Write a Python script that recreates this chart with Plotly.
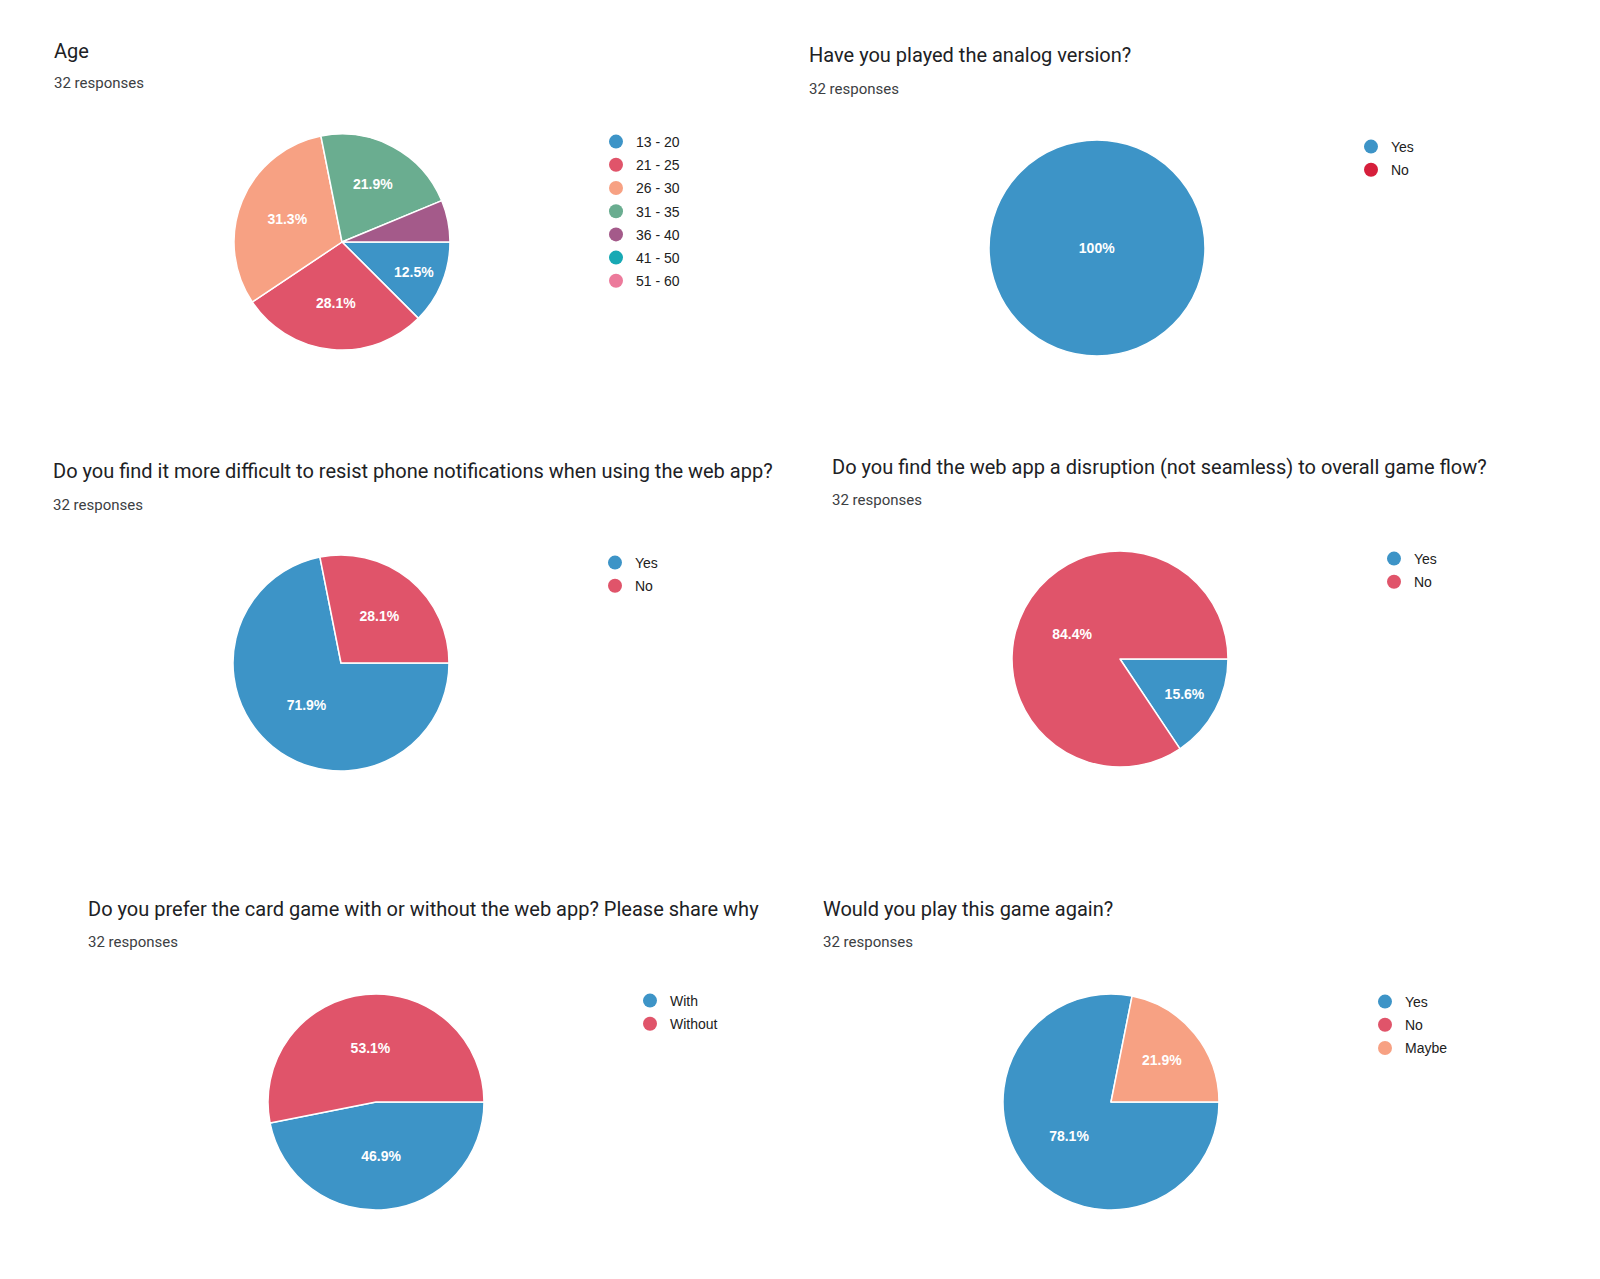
import plotly.graph_objects as go

W, H = 1600, 1279

# ---- data ----
age_labels = ["13 - 20", "21 - 25", "26 - 30", "31 - 35", "36 - 40", "41 - 50", "51 - 60"]
age_values = [4, 9, 10, 7, 2, 0, 0]
age_colors = ["#3d94c7", "#e0546a", "#f7a183", "#6aad90", "#a45a8a", "#17a9b4", "#ec7a9b"]

analog_labels = ["Yes", "No"]
analog_values = [32, 0]
analog_colors = ["#3d94c7", "#d61f3b"]

notif_labels = ["Yes", "No"]
notif_values = [23, 9]

disrupt_labels = ["Yes", "No"]
disrupt_values = [5, 27]

prefer_labels = ["With", "Without"]
prefer_values = [15, 17]

again_labels = ["Yes", "No", "Maybe"]
again_values = [25, 0, 7]

yn_colors = ["#3d94c7", "#e0546a", "#f7a183"]

titles = [
    "Age",
    "Have you played the analog version?",
    "Do you find it more difficult to resist phone notifications when using the web app?",
    "Do you find the web app a disruption (not seamless) to overall game flow?",
    "Do you prefer the card game with or without the web app? Please share why",
    "Would you play this game again?",
]
subtitle = "32 responses"

# ---- layout (pixel positions) ----
charts = [
    dict(labels=age_labels, values=age_values, colors=age_colors,
         c=(342, 242), title=(52, 51), sub=(52, 83), leg=(617, 141)),
    dict(labels=analog_labels, values=analog_values, colors=analog_colors,
         c=(1097, 248), title=(807, 55), sub=(807, 89), leg=(1372, 146)),
    dict(labels=notif_labels, values=notif_values, colors=yn_colors,
         c=(341, 663), title=(51, 471), sub=(51, 505), leg=(616, 562)),
    dict(labels=disrupt_labels, values=disrupt_values, colors=yn_colors,
         c=(1120, 659), title=(830, 467), sub=(830, 500), leg=(1395, 558)),
    dict(labels=prefer_labels, values=prefer_values, colors=yn_colors,
         c=(376, 1102), title=(86, 909), sub=(86, 942), leg=(651, 1000)),
    dict(labels=again_labels, values=again_values, colors=yn_colors,
         c=(1111, 1102), title=(821, 909), sub=(821, 942), leg=(1386, 1001)),
]
R = 108

fig = go.Figure()
annotations = []
layout_legends = {}

for i, ch in enumerate(charts):
    cx, cy = ch["c"]
    total = sum(ch["values"])
    # keep only non-empty slices in the pie (all categories stay in the legend)
    idx = [k for k, v in enumerate(ch["values"]) if v > 0]
    labs = [ch["labels"][k] for k in idx]
    vals = [ch["values"][k] for k in idx]
    cols = [ch["colors"][k] for k in idx]
    tmpl = []
    for v in vals:
        if v == total:
            tmpl.append("<b>%{percent:.0%}</b>")
        elif v / total >= 0.1:
            tmpl.append("<b>%{percent:.1%}</b>")
        else:
            tmpl.append("")
    fig.add_trace(go.Pie(
        labels=labs, values=vals,
        marker=dict(colors=cols, line=dict(color="white", width=1.5)),
        sort=False, direction="clockwise", rotation=90,
        texttemplate=tmpl, textposition="inside",
        insidetextorientation="horizontal",
        insidetextfont=dict(color="white", size=14, family="Liberation Sans, Arial"),
        showlegend=False, hoverinfo="label+percent",
        domain=dict(x=[(cx - R) / W, (cx + R) / W],
                    y=[1 - (cy + R) / H, 1 - (cy - R) / H]),
    ))
    lname = "legend" if i == 0 else f"legend{i + 1}"
    for j, lab in enumerate(ch["labels"]):
        fig.add_trace(go.Scatter(
            x=[None], y=[None], mode="markers", name=lab,
            marker=dict(symbol="circle", size=14, color=ch["colors"][j]),
            legend=lname, legendgroup=f"g{i}_{j}", showlegend=True,
            hoverinfo="skip",
        ))
    lx, ly = ch["leg"]
    layout_legends[lname] = dict(
        x=(lx - 21) / W, y=1 - (ly - 15) / H, xanchor="left", yanchor="top",
        bgcolor="rgba(0,0,0,0)", borderwidth=0,
        font=dict(family="Liberation Sans, Arial", size=14, color="#212121"),
        tracegroupgap=2, itemclick=False, itemdoubleclick=False,
    )
    tx, ty = ch["title"]
    annotations.append(dict(
        text=titles[i], x=tx / W, y=1 - ty / H, xref="paper", yref="paper",
        xanchor="left", yanchor="middle", showarrow=False,
        font=dict(family="Roboto, Open Sans, sans-serif", size=20, color="#202124"),
    ))
    sx, sy = ch["sub"]
    annotations.append(dict(
        text=subtitle, x=sx / W, y=1 - sy / H, xref="paper", yref="paper",
        xanchor="left", yanchor="middle", showarrow=False,
        font=dict(family="Roboto, Open Sans, sans-serif", size=15, color="#3c4043"),
    ))

fig.update_layout(
    width=W, height=H,
    margin=dict(l=0, r=0, t=0, b=0),
    paper_bgcolor="white", plot_bgcolor="white",
    xaxis=dict(visible=False), yaxis=dict(visible=False),
    annotations=annotations,
    **layout_legends,
)

fig.write_html(
    "out.html",
    config={"displayModeBar": False},
    post_script="document.body.style.margin='0';document.body.style.overflow='hidden';",
)
